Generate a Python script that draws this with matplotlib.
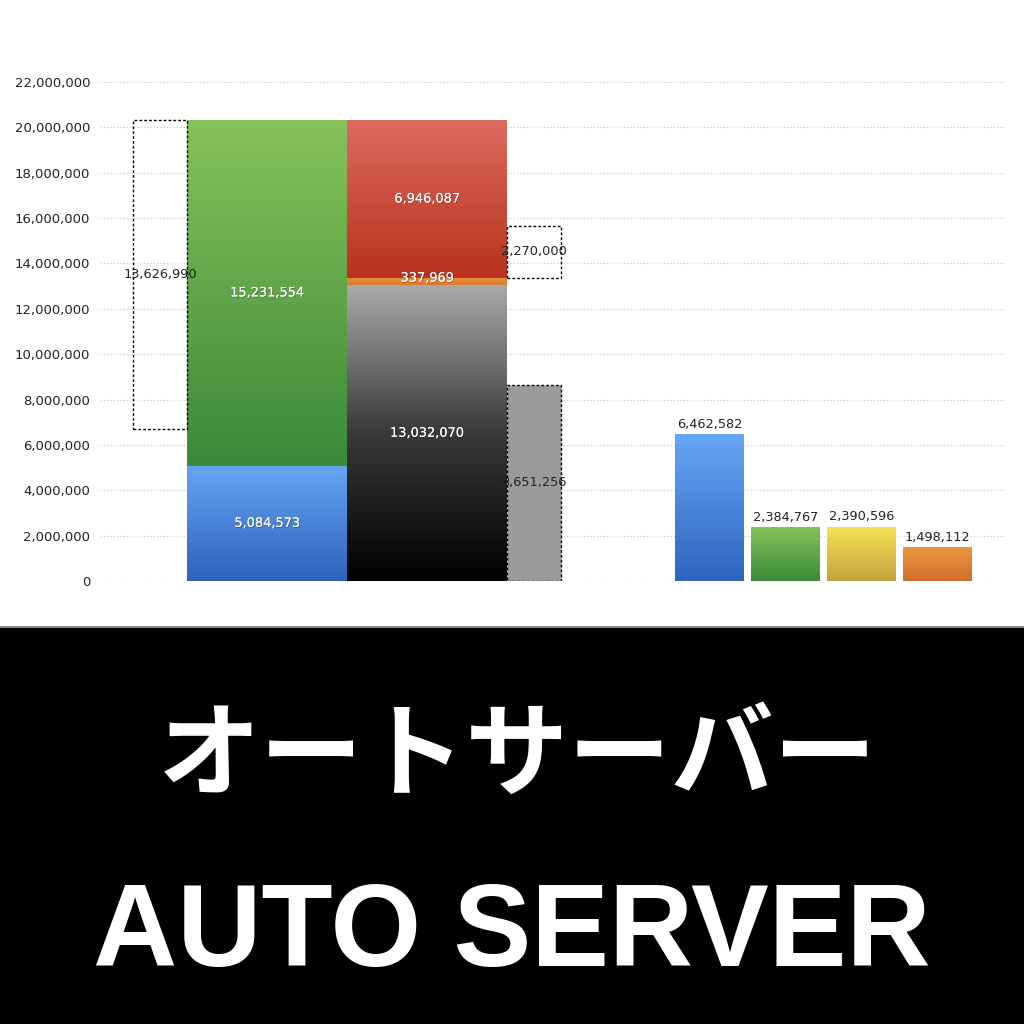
import numpy as np
import matplotlib.pyplot as plt
import matplotlib.patheffects as pe
from matplotlib.colors import LinearSegmentedColormap
from matplotlib.patches import Rectangle
from matplotlib.ticker import FuncFormatter

plt.rcParams['font.family'] = ['DejaVu Sans']

# 値
left_box_val = 13626990
blue_seg = 5084573
green_seg = 15231554
black_seg = 13032070
orange_seg = 337969
red_seg = 6946087
small_box_val = 2270000
gray_box_val = 8651256
right_vals = [6462582, 2384767, 2390596, 1498112]
right_colors = [('#2f64c0', '#66a6f4'), ('#3b8a39', '#86c15a'),
                ('#c3a33c', '#f6e157'), ('#d56d2f', '#e9963b')]

fig = plt.figure(figsize=(10.24, 10.24), dpi=100)
ax = fig.add_axes([100 / 1024, (1024 - 581) / 1024, 905 / 1024, (581 - 82) / 1024])


def grad_bar(x, height, width, bottom, c_bottom, c_top):
    b = ax.bar(x, height, width, bottom=bottom, color='none', edgecolor='none', zorder=3)[0]
    cmap = LinearSegmentedColormap.from_list('g', [c_bottom, c_top])
    img = ax.imshow(np.linspace(0, 1, 256).reshape(-1, 1), cmap=cmap, aspect='auto',
                    origin='lower', interpolation='bicubic', zorder=2.5,
                    extent=[b.get_x(), b.get_x() + b.get_width(), b.get_y(), b.get_y() + b.get_height()])
    img.set_clip_path(b)
    return b


def dashed_box(x, height, width, bottom, face='none'):
    return ax.bar(x, height, width, bottom=bottom, facecolor=face, edgecolor='black',
                  linewidth=1.0, linestyle=(0, (2, 1.5)), zorder=3)[0]


def inner_label(b, val, color='white', dy=0):
    cx = b.get_x() + b.get_width() / 2
    cy = b.get_y() + b.get_height() / 2 + dy
    t = ax.text(cx, cy, f'{val:,}', ha='center', va='center', color=color, fontsize=9.3, zorder=5)
    if color == 'white':
        t.set_path_effects([pe.withSimplePatchShadow(offset=(0.5, -0.6), shadow_rgbFace='#202020', alpha=0.45),
                            pe.Normal()])
    return t


# 左の積み上げ
b_blue = grad_bar(167, blue_seg, 160, 0, '#2c62bd', '#66a5f2')
b_green = grad_bar(167, green_seg, 160, blue_seg, '#3b893a', '#87c25a')
stack_top = blue_seg + green_seg
b_left = dashed_box(60, left_box_val, 54, stack_top - left_box_val)

# 中央の積み上げ
b_black = ax.bar(327, black_seg, 160, bottom=0, color='none', zorder=3)[0]
cmap_k = LinearSegmentedColormap.from_list('k', ['#000000', '#3a3a3a', '#a9a9a9'])
img = ax.imshow(np.linspace(0, 1, 256).reshape(-1, 1), cmap=cmap_k, aspect='auto', origin='lower',
                interpolation='bicubic', zorder=2.5,
                extent=[b_black.get_x(), b_black.get_x() + b_black.get_width(), 0, black_seg])
img.set_clip_path(b_black)
b_orange = grad_bar(327, orange_seg, 160, black_seg, '#dc7a2c', '#ea9240')
b_red = grad_bar(327, red_seg, 160, black_seg + orange_seg, '#b8321d', '#dd6b5f')

b_small = dashed_box(434, small_box_val, 54, black_seg + orange_seg)
b_gray = dashed_box(434, gray_box_val, 54, 0, face='#9b9b9b')

inner_label(b_left, left_box_val, color='#222222')
inner_label(b_green, green_seg)
inner_label(b_blue, blue_seg)
inner_label(b_black, black_seg)
inner_label(b_orange, orange_seg, dy=150000)
inner_label(b_red, red_seg)
inner_label(b_small, small_box_val, color='#222222')
inner_label(b_gray, gray_box_val, color='#222222')

# 右の棒
right_x = [609.5, 685.5, 761.5, 837.5]
for xv, v, (cb, ct) in zip(right_x, right_vals, right_colors):
    b = grad_bar(xv, v, 69, 0, cb, ct)
    ax.text(xv, v + 150000, f'{v:,}', ha='center', va='bottom', fontsize=9.3, color='#222222', zorder=5)

ax.set_xlim(0, 905)
ax.set_ylim(0, 22_000_000)
ax.set_yticks(range(0, 22_000_001, 2_000_000))
ax.yaxis.set_major_formatter(FuncFormatter(lambda v, p: f'{v:,.0f}'))
ax.tick_params(axis='y', length=0, pad=7, labelsize=9.5, labelcolor='#222222')
ax.set_xticks([])
ax.yaxis.grid(True, linestyle=(0, (1, 2)), color='#c4c4c4', linewidth=0.8)
ax.set_axisbelow(True)
for s in ax.spines.values():
    s.set_visible(False)

# 下の黒い帯
fig.add_artist(Rectangle((0, 0), 1, (1024 - 627) / 1024, transform=fig.transFigure,
                         facecolor='black', edgecolor='none', zorder=0))
fig.add_artist(Rectangle((0, (1024 - 628) / 1024), 1, 2 / 1024, transform=fig.transFigure,
                         facecolor='#8a8a8a', edgecolor='none', zorder=0))

fig.text(0.505, 1 - 758 / 1024, 'オートサーバー', ha='center', va='center', color='white',
         fontsize=74, fontweight='bold', family=['Noto Sans CJK JP', 'DejaVu Sans'])
fig.text(0.5, 1 - 966 / 1024, 'AUTO SERVER', ha='center', va='baseline', color='white',
         fontsize=84, fontweight='bold', family=['Liberation Sans', 'DejaVu Sans'])

fig.savefig('out.png', dpi=100, facecolor='white')
